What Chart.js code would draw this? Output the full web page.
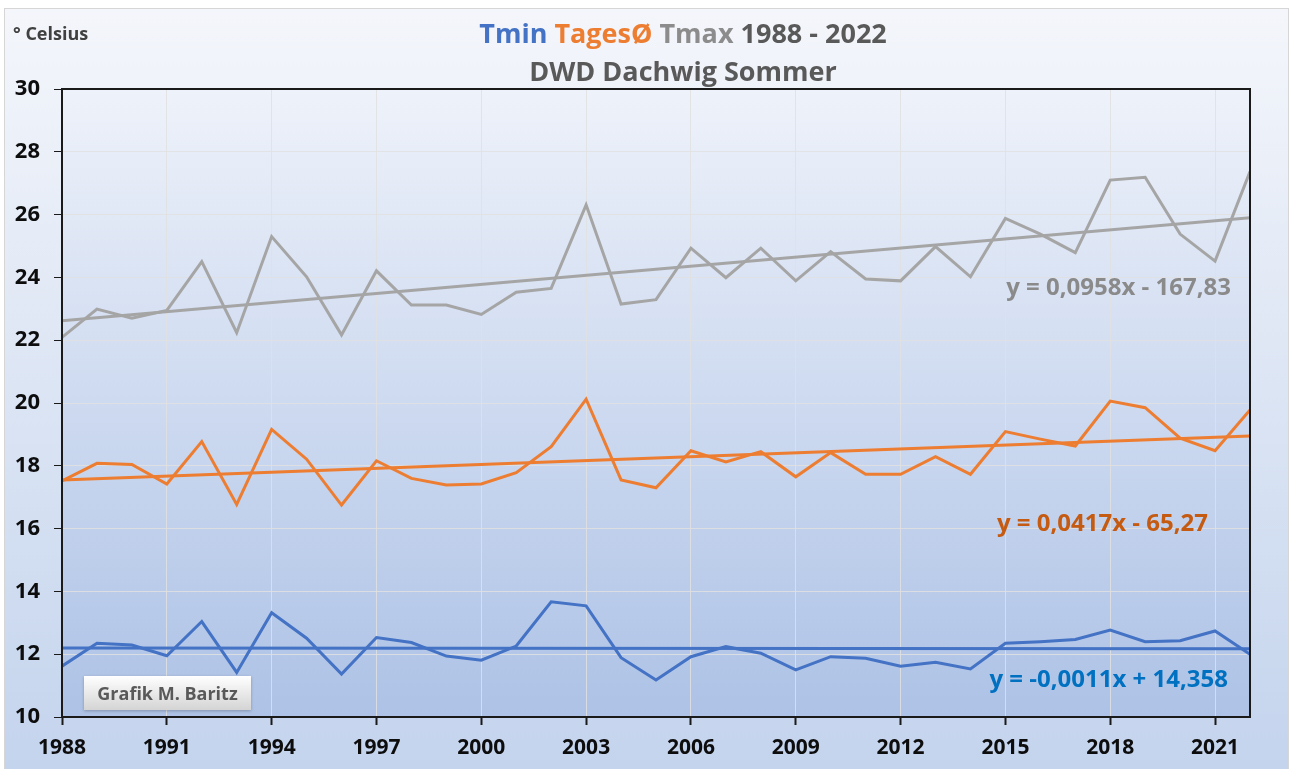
<!DOCTYPE html>
<html>
<head>
<meta charset="utf-8">
<script src="https://cdn.jsdelivr.net/npm/chart.js@4"></script>
<style>
  html, body { margin: 0; padding: 0; background: #fff; }
  #wrap { width: 1290px; height: 769px; }
</style>
</head>
<body>
<div id="wrap"><canvas id="chart" width="1290" height="769"></canvas></div>
<script>
// Jahre und Sommermittel (DWD Dachwig)
const years = [1988, 1989, 1990, 1991, 1992, 1993, 1994, 1995, 1996, 1997, 1998, 1999, 2000, 2001, 2002, 2003, 2004,
  2005, 2006, 2007, 2008, 2009, 2010, 2011, 2012, 2013, 2014, 2015, 2016, 2017, 2018, 2019, 2020, 2021, 2022]
const tmin = [11.62, 12.35, 12.29, 11.95, 13.04, 11.42, 13.32, 12.51, 11.37, 12.53, 12.37, 11.94, 11.81, 12.26, 13.67, 13.54, 11.89,
  11.18, 11.92, 12.24, 12.03, 11.5, 11.92, 11.87, 11.62, 11.74, 11.53, 12.35, 12.4, 12.47, 12.77, 12.4, 12.43, 12.74, 12.0]
const tmean = [17.52, 18.08, 18.04, 17.42, 18.77, 16.77, 19.16, 18.21, 16.75, 18.16, 17.6, 17.39, 17.42, 17.78, 18.61, 20.12, 17.55,
  17.3, 18.48, 18.12, 18.45, 17.65, 18.42, 17.73, 17.73, 18.29, 17.73, 19.09, 18.85, 18.63, 20.06, 19.85, 18.88, 18.48, 19.78]
const tmax = [22.09, 22.99, 22.7, 22.95, 24.5, 22.24, 25.3, 24.02, 22.17, 24.21, 23.12, 23.12, 22.82, 23.53, 23.65, 26.31, 23.15,
  23.29, 24.93, 23.99, 24.93, 23.89, 24.82, 23.95, 23.89, 24.98, 24.02, 25.88, 25.38, 24.79, 27.1, 27.19, 25.38, 24.52, 27.37]

// Achsenbeschriftung x (alle 3 Jahre)
const xTicks = [1988, 1991, 1994, 1997, 2000, 2003, 2006, 2009, 2012, 2015, 2018, 2021]

// Trendlinien (Anfang / Ende)
const trendYears = [1988, 2022]
const tminTrend = [12.2, 12.17]
const tmeanTrend = [17.55, 18.95]
const tmaxTrend = [22.62, 25.9]

const trendLabels = {
  tmin: "y = -0,0011x + 14,358",
  tmean: "y = 0,0417x - 65,27",
  tmax: "y = 0,0958x - 167,83",
}

const FONT = "'Open Sans', 'DejaVu Sans', sans-serif"
const BLUE = "#4472c4"
const ORANGE = "#ed7d31"
const GREY = "#a5a5a5"

const toPoints = (xs, ys) => xs.map((x, i) => ({ x: x, y: ys[i] }))

// Hintergrund, Titel, Rahmen und Beschriftungen
const decor = {
  id: "decor",
  beforeDraw(chart) {
    const { ctx, chartArea: a } = chart
    ctx.save()
    ctx.fillStyle = "#ffffff"
    ctx.fillRect(0, 0, chart.width, chart.height)
    let g = ctx.createLinearGradient(0, 8, 0, chart.height)
    g.addColorStop(0, "#f4f6fb")
    g.addColorStop(1, "#c4d4ed")
    ctx.fillStyle = g
    ctx.fillRect(4, 8, chart.width - 5, chart.height - 8)
    ctx.strokeStyle = "#d6d6d6"
    ctx.lineWidth = 1
    ctx.strokeRect(4.5, 8.5, chart.width - 6, chart.height - 8)
    g = ctx.createLinearGradient(0, a.top, 0, a.bottom)
    g.addColorStop(0, "#eef2fa")
    g.addColorStop(1, "#adc2e6")
    ctx.fillStyle = g
    ctx.fillRect(a.left, a.top, a.right - a.left, a.bottom - a.top)
    ctx.restore()
  },
  afterDatasetsDraw(chart) {
    const { ctx, chartArea: a } = chart
    ctx.save()
    ctx.strokeStyle = "#1a1a1a"
    ctx.lineWidth = 2
    ctx.strokeRect(a.left, a.top, a.right - a.left, a.bottom - a.top)

    // Titel
    ctx.textBaseline = "alphabetic"
    ctx.font = "bold 27px " + FONT
    const parts = [["Tmin ", BLUE], ["TagesØ ", ORANGE], ["Tmax ", "#8c8c8c"], ["1988 - 2022", "#595959"]]
    const total = parts.reduce((s, p) => s + ctx.measureText(p[0]).width, 0)
    let x = 683 - total / 2
    parts.forEach((p) => {
      ctx.fillStyle = p[1]
      ctx.textAlign = "left"
      ctx.fillText(p[0], x, 43)
      x += ctx.measureText(p[0]).width
    })
    ctx.fillStyle = "#595959"
    ctx.textAlign = "center"
    ctx.fillText("DWD Dachwig Sommer", 683, 81)

    ctx.font = "bold 18px " + FONT
    ctx.textAlign = "left"
    ctx.fillStyle = "#404040"
    ctx.fillText("° Celsius", 13, 40)

    // Trendgleichungen
    ctx.font = "bold 24px " + FONT
    ctx.textAlign = "right"
    ctx.fillStyle = "#8a8a8a"
    ctx.fillText(trendLabels.tmax, a.right - 19, 295)
    ctx.fillStyle = "#c55a11"
    ctx.fillText(trendLabels.tmean, a.right - 42, 531)
    ctx.fillStyle = "#0070c0"
    ctx.fillText(trendLabels.tmin, a.right - 22, 687)

    // Grafik-Hinweis
    const bx = a.left + 22, by = 676, bw = 167, bh = 34
    ctx.shadowColor = "rgba(0,0,0,0.25)"
    ctx.shadowBlur = 3
    ctx.shadowOffsetY = 1
    const bg = ctx.createLinearGradient(0, by, 0, by + bh)
    bg.addColorStop(0, "#ffffff")
    bg.addColorStop(1, "#d4d4d4")
    ctx.fillStyle = bg
    ctx.fillRect(bx, by, bw, bh)
    ctx.shadowColor = "transparent"
    ctx.font = "bold 18px " + FONT
    ctx.textAlign = "center"
    ctx.fillStyle = "#595959"
    ctx.fillText("Grafik M. Baritz", bx + bw / 2, by + 24)
    ctx.restore()
  },
}

const lineSet = (label, data, color) => ({
  label: label,
  data: data,
  borderColor: color,
  backgroundColor: color,
  borderWidth: 3,
  pointRadius: 0,
  tension: 0,
  fill: false,
})

new Chart(document.getElementById("chart"), {
  type: "line",
  data: {
    datasets: [
      lineSet("Tmax", toPoints(years, tmax), GREY),
      lineSet("Tmax Trend", toPoints(trendYears, tmaxTrend), GREY),
      lineSet("TagesØ", toPoints(years, tmean), ORANGE),
      lineSet("TagesØ Trend", toPoints(trendYears, tmeanTrend), ORANGE),
      lineSet("Tmin", toPoints(years, tmin), BLUE),
      lineSet("Tmin Trend", toPoints(trendYears, tminTrend), BLUE),
    ],
  },
  options: {
    responsive: false,
    animation: false,
    devicePixelRatio: 1,
    layout: { padding: { left: 0, right: 40, top: 89, bottom: 0 } },
    plugins: {
      legend: { display: false },
      tooltip: { enabled: false },
    },
    scales: {
      x: {
        type: "linear",
        min: 1988,
        max: 2022,
        afterFit: (scale) => { scale.height = 52 },
        afterBuildTicks: (scale) => { scale.ticks = xTicks.map((v) => ({ value: v })) },
        border: { display: false },
        grid: {
          color: "rgba(225,225,225,0.85)",
          lineWidth: 1,
          tickColor: "#1a1a1a",
          tickLength: 8,
          tickWidth: 2,
        },
        ticks: {
          color: "#0d0d0d",
          padding: 10,
          maxRotation: 0,
          autoSkip: false,
          font: { family: FONT, size: 21, weight: "bold" },
          callback: (v) => String(v),
        },
      },
      y: {
        min: 10,
        max: 30,
        afterFit: (scale) => { scale.width = 62 },
        border: { display: false },
        grid: {
          color: "rgba(225,225,225,0.85)",
          lineWidth: 1,
          tickColor: "#1a1a1a",
          tickLength: 8,
          tickWidth: 1,
        },
        ticks: {
          stepSize: 2,
          color: "#0d0d0d",
          padding: 14,
          font: { family: FONT, size: 22, weight: "bold" },
        },
      },
    },
  },
  plugins: [decor],
})
</script>
</body>
</html>
